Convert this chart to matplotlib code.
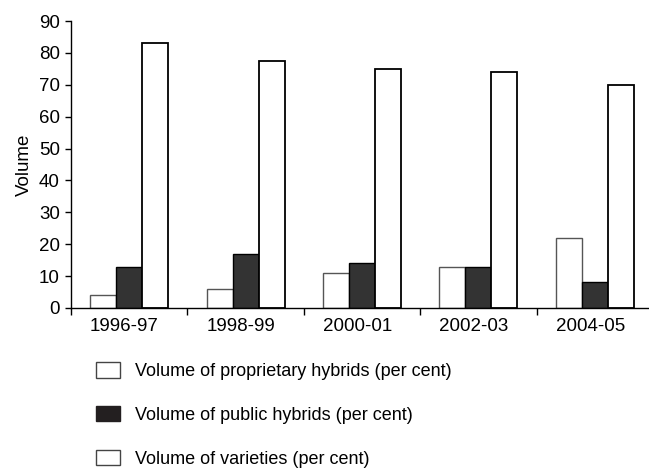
import numpy as np
import matplotlib
matplotlib.use('Agg')
import matplotlib.pyplot as plt
from matplotlib.patches import Patch

plt.rcParams['font.family'] = ['Liberation Sans', 'DejaVu Sans']

periods = ['1996-97', '1998-99', '2000-01', '2002-03', '2004-05']
proprietary = [4, 6, 11, 13, 22]
public = [13, 17, 14, 13, 8]
varieties = [83, 77.5, 75, 74, 70]

labels = ['Volume of proprietary hybrids (per cent)',
          'Volume of public hybrids (per cent)',
          'Volume of varieties (per cent)']

fig = plt.figure(figsize=(6.49, 4.69), dpi=100)
ax = fig.add_axes([71/649, 1 - 308/469, 582/649, 287/469])

x = np.arange(len(periods))
w = 0.223
ax.bar(x - w, proprietary, w, color='white', edgecolor='#555555', linewidth=1.0)
ax.bar(x, public, w, color='#333333', edgecolor='black', linewidth=1.0)
ax.bar(x + w, varieties, w, color='white', edgecolor='black', linewidth=1.3)

ax.set_xlim(-0.5, 4.5)
ax.set_ylim(0, 90)
ax.set_yticks(range(0, 91, 10))
ax.set_xticks(x - 0.04)
ax.set_xticklabels(periods)
ax.tick_params(axis='x', length=0, pad=7, labelsize=13.5)
ax.set_xticks(np.arange(-0.5, 4.0, 1), minor=True)
ax.tick_params(axis='x', which='minor', length=5, width=1, direction='out')
ax.tick_params(axis='y', length=4, width=1, pad=4, labelsize=13.5)
ax.set_ylabel('Volume', fontsize=13.5, labelpad=4)

for s in ['top', 'right']:
    ax.spines[s].set_visible(False)
for s in ['left', 'bottom']:
    ax.spines[s].set_linewidth(1.0)

handles = [Patch(facecolor='white', edgecolor='#444444', linewidth=1.0),
           Patch(facecolor='#231f20', edgecolor='#231f20', linewidth=1.0),
           Patch(facecolor='white', edgecolor='#444444', linewidth=1.0)]
fig.legend(handles, labels, loc='upper left', bbox_to_anchor=(87/649, 1 - 353/469),
           frameon=False, fontsize=13, handlelength=1.3, handleheight=0.95,
           handletextpad=0.85, labelspacing=1.43, borderpad=0)

fig.savefig('out.png', dpi=100)
